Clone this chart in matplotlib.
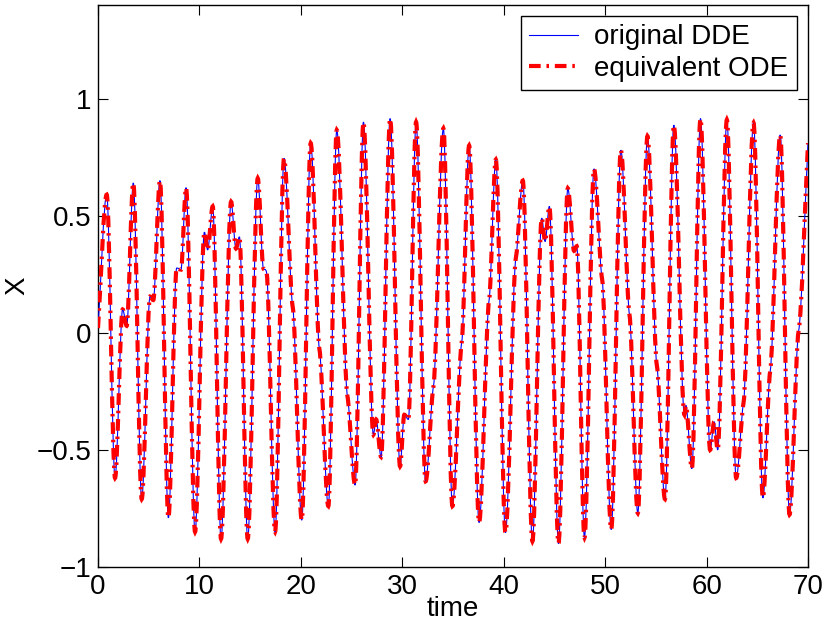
import matplotlib
matplotlib.use("Agg")
import matplotlib.pyplot as plt
from matplotlib.path import Path
from matplotlib.patches import PathPatch
from matplotlib.lines import Line2D

# key points (extrema and shoulders)
time_pts = [0.0, 0.86, 1.68, 2.43, 2.83, 3.48, 4.31, 5.13, 5.45, 6.11, 6.94,
            7.76, 8.18, 8.68, 9.57, 10.49, 10.81, 11.31, 12.13, 13.12, 13.6,
            13.94, 14.76, 15.75, 16.3, 16.63, 17.46, 18.34, 19.2, 20.09, 20.97,
            21.83, 22.71, 23.54, 24.59, 25.35, 26.17, 27.15, 27.42, 27.91, 28.8,
            29.78, 30.2, 30.6, 31.36, 32.3, 33.07, 34.05, 34.94, 35.86, 36.59,
            37.57, 38.56, 39.22, 40.17, 41.2, 41.88, 42.83, 43.75, 44.08, 44.5,
            45.4, 46.32, 46.94, 47.2, 47.96, 48.9, 49.7, 50.6, 51.55, 52.4,
            53.22, 54.17, 55.1, 55.9, 56.77, 57.82, 57.96, 58.55, 59.4, 60.35,
            60.75, 61.1, 62.0, 62.92, 63.64, 64.63, 65.55, 66.27, 67.26, 68.18,
            69.07, 70.0]
x_dde = [0.02, 0.59, -0.62, 0.10, 0.03, 0.64, -0.71, 0.155, 0.14, 0.65, -0.79,
         0.277, 0.27, 0.62, -0.85, 0.43, 0.354, 0.54, -0.88, 0.56, 0.36,
         0.41, -0.88, 0.66, 0.276, 0.255, -0.85, 0.745, 0.11, -0.80, 0.81,
         -0.07, -0.74, 0.866, -0.27, -0.65, 0.90, -0.435, -0.37, -0.53, 0.915,
         -0.57, -0.35, -0.37, 0.90, -0.634, -0.23, 0.873, -0.74, -0.04, 0.80,
         -0.81, 0.14, 0.74, -0.853, 0.32, 0.65, -0.89, 0.49, 0.39, 0.54,
         -0.90, 0.617, 0.35, 0.37, -0.875, 0.70, 0.23, -0.84, 0.78, 0.077,
         -0.77, 0.84, -0.14, -0.71, 0.887, -0.35, -0.31, -0.58, 0.915, -0.50,
         -0.38, -0.50, 0.91, -0.62, -0.30, 0.897, -0.705, -0.165, 0.845, -0.776,
         0.006, 0.81]
x_ode = list(x_dde)

xticks = [0, 10, 20, 30, 40, 50, 60, 70]
yticks = [-1, -0.5, 0, 0.5, 1]
ytick_labels = ["\u22121", "\u22120.5", "0", "0.5", "1"]

plt.rcParams["font.family"] = ["Liberation Sans", "DejaVu Sans"]


def smooth_path(t, x):
    # cubic bezier through the key points, flat at extrema
    n = len(t)
    slope = []
    for i in range(n):
        if i == 0 or i == n - 1:
            j0, j1 = max(i - 1, 0), min(i + 1, n - 1)
            slope.append((x[j1] - x[j0]) / (t[j1] - t[j0]))
        elif (x[i] - x[i - 1]) * (x[i + 1] - x[i]) <= 0:
            slope.append(0.0)
        else:
            slope.append(0.25 * (x[i + 1] - x[i - 1]) / (t[i + 1] - t[i - 1]))
    verts = [(t[0], x[0])]
    codes = [Path.MOVETO]
    for i in range(n - 1):
        dt = t[i + 1] - t[i]
        verts += [(t[i] + dt / 3, x[i] + slope[i] * dt / 3),
                  (t[i + 1] - dt / 3, x[i + 1] - slope[i + 1] * dt / 3),
                  (t[i + 1], x[i + 1])]
        codes += [Path.CURVE4] * 3
    return Path(verts, codes)


red_dash = (0, (2.8, 1.4, 0.6, 1.4))

fig = plt.figure(figsize=(8.27, 6.27), dpi=100)
ax = fig.add_axes([98 / 827, 1 - 567 / 627, 710 / 827, 562 / 627])

ax.add_patch(PathPatch(smooth_path(time_pts, x_dde), fill=False, edgecolor="#0000ff",
                       lw=0.8, transform=ax.transData, zorder=3))
ax.add_patch(PathPatch(smooth_path(time_pts, x_ode), fill=False, edgecolor="#ff0000",
                       lw=3, linestyle=red_dash, transform=ax.transData, zorder=4))

ax.set_xlim(0, 70)
ax.set_ylim(-1, 1.4)
ax.set_xticks(xticks)
ax.set_xticklabels([str(v) for v in xticks])
ax.set_yticks(yticks)
ax.set_yticklabels(ytick_labels)
ax.tick_params(direction="in", length=7, width=0.8, top=True, right=True,
               labelsize=20, pad=5)
for spine in ax.spines.values():
    spine.set_linewidth(1.0)

ax.set_xlabel("time", fontsize=20, labelpad=-3)
ax.set_ylabel("X", fontsize=20)
ax.yaxis.set_label_coords(-0.095, 0.5)

handles = [Line2D([], [], color="#0000ff", lw=0.8),
           Line2D([], [], color="#ff0000", lw=3, linestyle=red_dash)]
leg = ax.legend(handles, ["original DDE", "equivalent ODE"], loc="upper right",
                fontsize=20, fancybox=False, framealpha=1, edgecolor="black",
                handlelength=1.75, labelspacing=0.2, borderaxespad=0.4,
                handletextpad=0.6, borderpad=0.3)
leg.get_frame().set_linewidth(1.0)

fig.savefig("out.png", dpi=100)
